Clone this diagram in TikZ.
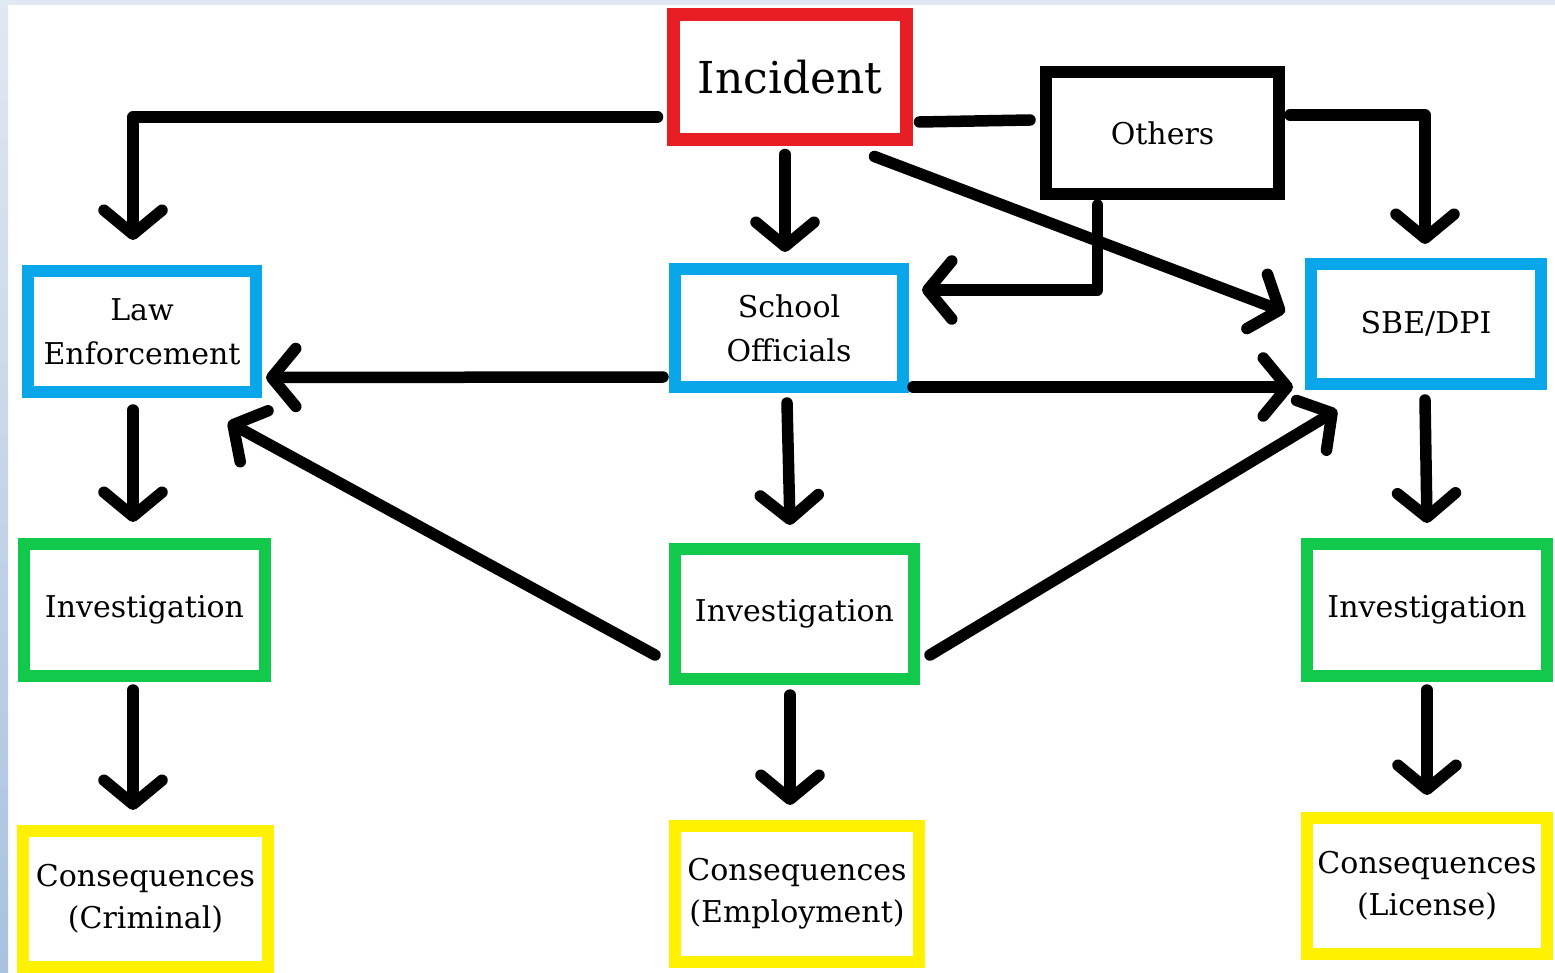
\documentclass[tikz,border=0pt]{standalone}
\usepackage{fontspec}
\setmainfont{DejaVu Serif}
\usetikzlibrary{arrows.meta,calc}
\definecolor{cred}{HTML}{E81E25}
\definecolor{cblue}{HTML}{0AA6EA}
\definecolor{cgreen}{HTML}{12C94B}
\definecolor{cyel}{HTML}{FFF100}
\definecolor{bgtop}{HTML}{E0E8F2}
\definecolor{bgbot}{HTML}{A9C1DF}
\begin{document}
\begin{tikzpicture}[x=1pt,y=-1pt,
  box/.style={draw, line width=12pt, rectangle, align=center, inner sep=0pt, outer sep=0pt,
    font=\fontsize{30}{44}\selectfont},
  conn/.style={line width=11.5pt, line cap=round, line join=round},
  arr/.style={conn, -{Straight Barb[length=24pt,width=58pt,round]}}]
\useasboundingbox (0,0) rectangle (1555,973);
\fill[white] (0,0) rectangle (1555,973);
\fill[bgtop] (0,0) rectangle (1555,5);
\shade[top color=bgtop, bottom color=bgbot] (0,0) rectangle (8,973);

\node[box, draw=cred, line width=13pt, minimum width=233pt, minimum height=125pt, font=\fontsize{44}{56}\selectfont] (inc) at (790,77) {Incident};
\node[box, draw=black, minimum width=233pt, minimum height=122pt] (oth) at (1162.5,133) {Others};
\node[box, draw=cblue, minimum width=228pt, minimum height=121pt] (law) at (142,331.5) {Law\\Enforcement};
\node[box, draw=cblue, minimum width=228pt, minimum height=118pt] (sch) at (789,328) {School\\Officials};
\node[box, draw=cblue, minimum width=230pt, minimum height=120pt, font=\fontsize{30}{40}\selectfont] (sbe) at (1426,324) {SBE/DPI};
\node[box, draw=cgreen, minimum width=241pt, minimum height=132pt] (invL) at (144.5,610) {Investigation};
\node[box, draw=cgreen, minimum width=239pt, minimum height=130pt] (invM) at (794.5,614) {Investigation};
\node[box, draw=cgreen, minimum width=240pt, minimum height=132pt] (invR) at (1427,610) {Investigation};
\node[box, draw=cyel, minimum width=245pt, minimum height=136pt, font=\fontsize{30}{42}\selectfont] (conL) at (145.5,899) {Consequences\\(Criminal)};
\node[box, draw=cyel, minimum width=244pt, minimum height=136pt, font=\fontsize{30}{42}\selectfont] (conM) at (797,894) {Consequences\\(Employment)};
\node[box, draw=cyel, minimum width=240pt, minimum height=136pt, font=\fontsize{30}{42}\selectfont] (conR) at (1427,886) {Consequences\\(License)};

\draw[arr] ($(inc.west)+(-16,40)$) -| ($(law.north)+(-9,-31)$);
\draw[arr] ($(inc.south)+(-5,15)$) -- ($(sch.north)+(-4,-17)$);
\draw[conn] ($(inc.east)+(13,45)$) -- ($(oth.west)+(-16,-13)$);
\draw[arr] ($(oth.east)+(11,-18)$) -| ($(sbe.north)+(-1,-20)$);
\draw[arr] ($(oth.south)+(-65,11)$) |- ($(sch.east)+(19,-38)$);
\draw[arr] ($(inc.south east)+(-32,17)$) -- ($(sbe.west)+(-26,-12)$);
\draw[arr] ($(sch.west)+(-12,49)$) -- ($(law.east)+(10,46)$);
\draw[arr] ($(sch.east)+(10,59)$) -- ($(sbe.west)+(-18,63)$);
\draw[arr] ($(sch.south)+(-2,16)$) -- ($(invM.north)+(-4.5,-24)$);
\draw[arr] ($(invM.west)+(-20,41)$) -- ($(law.south)+(86,30)$);
\draw[arr] ($(invM.east)+(16,41)$) -- ($(sbe.south)+(-89,26)$);
\draw[arr] ($(law.south)+(-9,18)$) -- ($(invL.north)+(-11.5,-22)$);
\draw[arr] ($(invL.south)+(-11.5,14)$) -- ($(conL.north)+(-12.5,-21)$);
\draw[arr] ($(invM.south)+(-4.5,16)$) -- ($(conM.north)+(-7,-21)$);
\draw[arr] ($(sbe.south)+(-1,16)$) -- ($(invR.north)+(0,-21)$);
\draw[arr] ($(invR.south)+(0,14)$) -- ($(conR.north)+(0,-23)$);
\end{tikzpicture}
\end{document}
